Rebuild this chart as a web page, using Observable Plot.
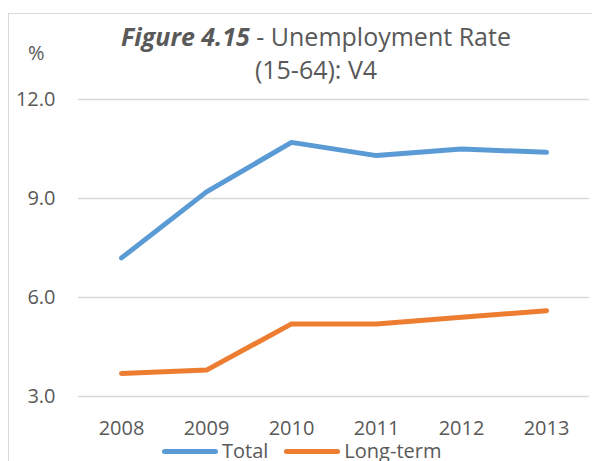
<!DOCTYPE html>
<html><head><meta charset="utf-8">
<script src="https://cdn.jsdelivr.net/npm/d3@7"></script>
<script src="https://cdn.jsdelivr.net/npm/@observablehq/plot@0.6"></script>
<style>
body{margin:0;background:#fff;font-family:"Open Sans",sans-serif;color:#595959;overflow:hidden}
#wrap{position:relative;width:592px;height:461px;overflow:hidden}
#frame{position:absolute;left:8px;top:13px;width:600px;height:470px;border:1px solid #d9d9d9;box-sizing:border-box}
#title{position:absolute;left:66px;width:500px;top:20px;text-align:center;font-size:25px;line-height:33px;white-space:nowrap}
#unit{position:absolute;left:28px;top:43px;font-size:20px;line-height:20px}
#chart{position:absolute;left:0;top:80px}
#legend{position:absolute;left:162px;top:441px;font-size:20px;line-height:20px;display:flex;align-items:center;white-space:nowrap}
.sw{display:inline-block;width:56px;height:5px;border-radius:3px;margin-right:4px}
</style></head>
<body>
<div id="wrap">
  <div id="frame"></div>
  <div id="title"><b><i>Figure 4.15</i></b> - Unemployment Rate<br>(15-64): V4</div>
  <div id="unit">%</div>
  <div id="chart"></div>
  <div id="legend"></div>
</div>
<script>
const years = ["2008", "2009", "2010", "2011", "2012", "2013"];
const total = [7.2, 9.2, 10.7, 10.3, 10.5, 10.4];
const longTerm = [3.7, 3.8, 5.2, 5.2, 5.4, 5.6];
const seriesNames = ["Total", "Long-term"];
const seriesColors = ["#5B9BD5", "#ED7D31"];
const yTicks = [3, 6, 9, 12];

const data = [
  ...years.map((y, i) => ({year: y, value: total[i], series: seriesNames[0]})),
  ...years.map((y, i) => ({year: y, value: longTerm[i], series: seriesNames[1]}))
];

const chart = Plot.plot({
  width: 592,
  height: 360,
  marginTop: 19,
  marginBottom: 44,
  marginLeft: 78,
  marginRight: 3,
  style: {fontSize: "20px", fontFamily: "'Open Sans', sans-serif", color: "#595959", background: "transparent", overflow: "visible"},
  x: {type: "point", domain: years, padding: 0.5, label: null, tickSize: 0, tickPadding: 24},
  y: {domain: [3, 12], ticks: yTicks, tickFormat: d3.format(".1f"), label: null, tickSize: 0, tickPadding: 23},
  color: {domain: seriesNames, range: seriesColors},
  marks: [
    Plot.gridY(yTicks, {stroke: "#d9d9d9", strokeOpacity: 1, strokeWidth: 1.3}),
    Plot.axisY({ticks: yTicks, tickFormat: d3.format(".1f"), tickSize: 0, tickPadding: 23, label: null}),
    Plot.axisX({tickSize: 0, tickPadding: 24, label: null}),
    Plot.line(data, {x: "year", y: "value", z: "series", stroke: "series", strokeWidth: 5, strokeLinecap: "round", strokeLinejoin: "round"})
  ]
});
document.getElementById("chart").appendChild(chart);

const legend = document.getElementById("legend");
seriesNames.forEach((name, i) => {
  const item = document.createElement("span");
  item.style.display = "inline-flex";
  item.style.alignItems = "center";
  item.style.marginRight = i === 0 ? "16px" : "0";
  const sw = document.createElement("span");
  sw.className = "sw";
  sw.style.background = seriesColors[i];
  item.appendChild(sw);
  item.appendChild(document.createTextNode(name));
  legend.appendChild(item);
});
</script>
</body></html>
